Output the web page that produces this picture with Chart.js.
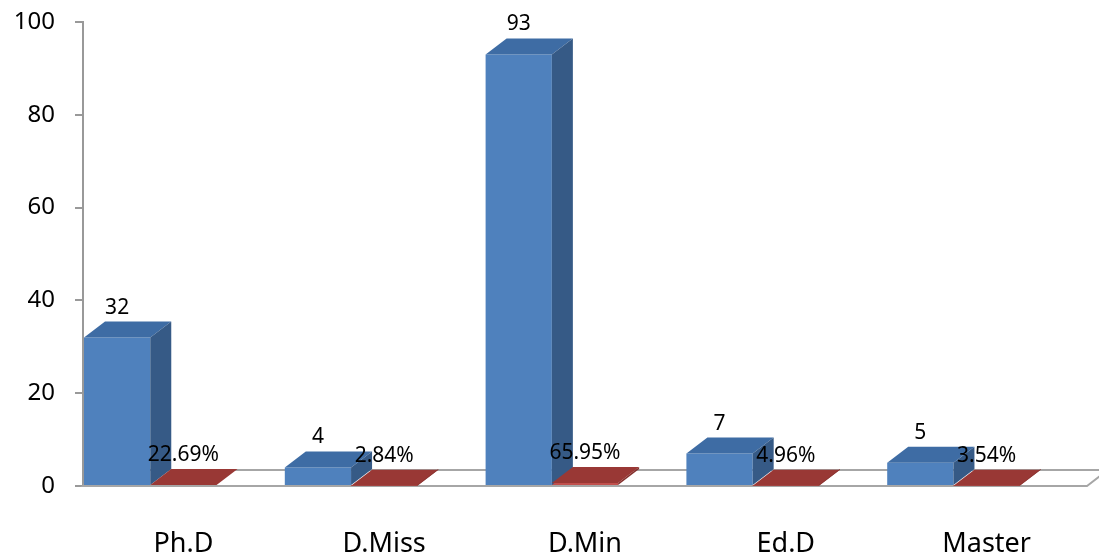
<!DOCTYPE html>
<html>
<head>
<meta charset="utf-8">
<script src="https://cdn.jsdelivr.net/npm/chart.js@4.4.1/dist/chart.umd.min.js"></script>
<style>
  html, body { margin: 0; padding: 0; background: #fff; }
  #wrap { width: 1099px; height: 558px; }
</style>
</head>
<body>
<div id="wrap"><canvas id="myChart"></canvas></div>
<script>
// donnees
const categories = ["Ph.D", "D.Miss", "D.Min", "Ed.D", "Master"];
const counts = [32, 4, 93, 7, 5];
const ratios = [0.2269, 0.0284, 0.6595, 0.0496, 0.0354]; // en fraction, affiche en %
const yTicks = [0, 20, 40, 60, 80, 100];

// profondeur 3D (pixels)
const DX = 21;
const DY = -16;

// faces du dessus / cote plus sombres
const shades = [
  { front: "#4F81BD", top: "#3E6CA4", side: "#365A86" },
  { front: "#C0504D", top: "#993835", side: "#85302D" },
];

const depthPlugin = {
  id: "depth3d",
  beforeDatasetsDraw(chart) {
    // le sol
    const ctx = chart.ctx;
    const area = chart.chartArea;
    const y0 = chart.scales.y.getPixelForValue(0);
    ctx.save();
    ctx.beginPath();
    ctx.moveTo(area.left, y0);
    ctx.lineTo(area.right, y0);
    ctx.lineTo(area.right + DX, y0 + DY);
    ctx.lineTo(area.left + DX, y0 + DY);
    ctx.closePath();
    ctx.fillStyle = "#ffffff";
    ctx.fill();
    ctx.strokeStyle = "#a6a6a6";
    ctx.lineWidth = 2;
    ctx.stroke();
    ctx.restore();
  },
  afterDatasetsDraw(chart) {
    const ctx = chart.ctx;
    ctx.save();
    [0, 1].forEach((i) => {
      const meta = chart.getDatasetMeta(i);
      meta.data.forEach((bar) => {
        const l = bar.x - bar.width / 2;
        const r = bar.x + bar.width / 2;
        const t = bar.y;
        const b = bar.base;
        // dessus
        ctx.beginPath();
        ctx.moveTo(l, t);
        ctx.lineTo(r, t);
        ctx.lineTo(r + DX, t + DY);
        ctx.lineTo(l + DX, t + DY);
        ctx.closePath();
        ctx.fillStyle = shades[i].top;
        ctx.fill();
        // cote droit
        ctx.beginPath();
        ctx.moveTo(r, t);
        ctx.lineTo(r + DX, t + DY);
        ctx.lineTo(r + DX, b + DY);
        ctx.lineTo(r, b);
        ctx.closePath();
        ctx.fillStyle = shades[i].side;
        ctx.fill();
      });
    });
    // etiquettes
    ctx.font = "21px 'Noto Sans'";
    ctx.fillStyle = "#000";
    ctx.textAlign = "center";
    ctx.textBaseline = "middle";
    [0, 1].forEach((i) => {
      const meta = chart.getDatasetMeta(i);
      meta.data.forEach((bar, j) => {
        const v = chart.data.datasets[i].data[j];
        const txt = i === 0 ? String(v) : (v * 100).toFixed(2) + "%";
        ctx.fillText(txt, bar.x, bar.y - 30);
      });
    });
    ctx.restore();
  },
};

const data = {
  labels: categories,
  datasets: [
    {
      label: "Nombre",
      data: counts,
      backgroundColor: shades[0].front,
    },
    {
      label: "Pourcentage",
      data: ratios,
      backgroundColor: shades[1].front,
    },
    {
      // place vide (profondeur de la serie)
      label: "",
      data: categories.map(() => null),
      backgroundColor: "rgba(0,0,0,0)",
    },
  ],
};

const config = {
  type: "bar",
  data: data,
  plugins: [depthPlugin],
  options: {
    responsive: false,
    animation: false,
    devicePixelRatio: 1,
    categoryPercentage: 0.99,
    barPercentage: 1,
    layout: { padding: { left: 0, right: 12, top: 22, bottom: 0 } },
    plugins: {
      legend: false,
      tooltip: { enabled: false },
    },
    scales: {
      x: {
        grid: { display: false },
        border: { display: false },
        ticks: {
          color: "#000",
          font: { family: "'Noto Sans'", size: 27 },
          padding: 34,
          maxRotation: 0,
        },
        afterFit(scale) {
          scale.height = 72;
          scale.paddingLeft = 0;
          scale.paddingRight = 0;
        },
      },
      y: {
        min: 0,
        max: 100,
        afterBuildTicks(scale) {
          scale.ticks = yTicks.map((v) => ({ value: v }));
        },
        grid: {
          drawOnChartArea: false,
          color: "#999999",
          lineWidth: 2,
          tickLength: 8,
        },
        border: { color: "#999999", width: 2 },
        ticks: {
          color: "#000",
          font: { family: "'Noto Sans'", size: 24 },
          padding: 20,
        },
        afterFit(scale) {
          scale.width = 83;
          scale.paddingTop = 0;
          scale.paddingBottom = 0;
        },
      },
    },
  },
};

const canvas = document.getElementById("myChart");
canvas.width = 1099;
canvas.height = 558;
const context = canvas.getContext("2d");
const chart = new Chart(context, config);
</script>
</body>
</html>
